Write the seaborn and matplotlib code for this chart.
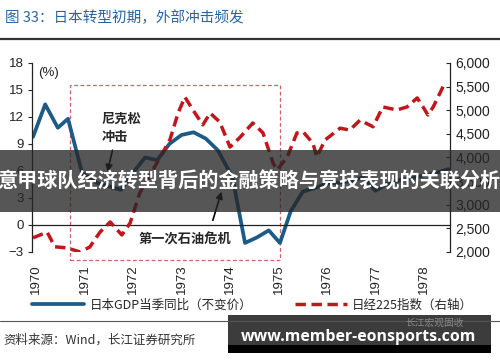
import matplotlib
matplotlib.use("Agg")
import matplotlib.pyplot as plt
import seaborn as sns
from matplotlib.patches import Rectangle
from matplotlib.lines import Line2D
from matplotlib.ticker import FuncFormatter

sns.set_style("white")
plt.rcParams['font.family'] = ['Liberation Sans', 'Noto Sans CJK SC', 'DejaVu Sans']
CJK = ['Noto Sans CJK SC', 'DejaVu Sans']

# 日本GDP当季同比 (季度, %)
gdp_t = [1969.94, 1970.19, 1970.45, 1970.66, 1970.95, 1971.25, 1971.50, 1971.75,
         1972.00, 1972.25, 1972.50, 1972.75, 1973.00, 1973.25, 1973.50, 1973.75,
         1974.05, 1974.31, 1974.55, 1974.80, 1975.03, 1975.25, 1975.50, 1975.75,
         1976.00, 1976.25, 1976.50, 1976.75, 1977.00, 1977.25, 1977.50, 1977.75,
         1978.00, 1978.25, 1978.50]
gdp_yoy = [9.8, 13.4, 10.8, 11.8, 5.8, 4.7, 4.3, 3.9,
           5.8, 7.5, 7.2, 9.0, 10.0, 10.3, 9.6, 8.3,
           5.3, -2.0, -1.4, -0.6, -2.0, 1.5, 3.7, 4.1,
           4.6, 4.7, 4.9, 5.3, 3.8, 4.6, 5.0, 5.2,
           5.5, 5.8, 6.2]

# 日经225指数 (右轴)
nk_t = [1969.94, 1970.23, 1970.39, 1970.64, 1970.91, 1971.11, 1971.32, 1971.53,
        1971.77, 1971.94, 1972.14, 1972.49, 1972.76, 1972.93, 1973.07, 1973.24,
        1973.44, 1973.59, 1973.79, 1974.00, 1974.21, 1974.47, 1974.68, 1974.89,
        1974.97, 1975.18, 1975.38, 1975.51, 1975.71, 1975.79, 1975.96, 1976.27,
        1976.47, 1976.68, 1976.95, 1977.15, 1977.44, 1977.65, 1977.86, 1977.98,
        1978.08, 1978.19, 1978.33, 1978.43]
nikkei = [2300, 2420, 2110, 2085, 2000, 2105, 2420, 2635,
          2360, 2610, 3250, 3880, 4370, 4940, 5280, 5000,
          4690, 4940, 4750, 4220, 4430, 4730, 4520, 3880,
          3735, 4010, 4520, 4540, 4300, 4010, 4370, 4620,
          4580, 4790, 4650, 5070, 5005, 5070, 5260, 5070,
          4900, 5070, 5365, 5580]

years = list(range(1970, 1979))
left_ticks = [-3, 0, 3, 6, 9, 12, 15, 18]
right_ticks = [2000, 2500, 3000, 3500, 4000, 4500, 5000, 5500, 6000]

blue = '#1d5b86'
red = '#c0161c'

fig = plt.figure(figsize=(5, 3.62), dpi=100)
ax = fig.add_axes([0.064, 0.304, 0.836, 0.522])
ax2 = ax.twinx()

sns.lineplot(x=gdp_t, y=gdp_yoy, ax=ax, color=blue, lw=2.7, solid_capstyle='round',
             solid_joinstyle='round')
sns.lineplot(x=nk_t, y=nikkei, ax=ax2, color=red, lw=2.5, linestyle=(0, (3, 1.6)),
             dash_joinstyle='round')

ax.set_xlim(1969.918, 1978.536)
ax.set_ylim(-3, 18)
ax2.set_ylim(2000, 6000)
ax.set_yticks(left_ticks)
ax2.set_yticks(right_ticks)
ax2.yaxis.set_major_formatter(FuncFormatter(lambda v, p: f'{int(v):,}'))

for a in (ax, ax2):
    a.spines['top'].set_visible(False)
    a.grid(False)
    a.set_xlabel('')
    a.set_ylabel('')
ax.spines['right'].set_visible(False)
ax2.spines['bottom'].set_visible(False)
ax2.spines['left'].set_visible(False)
ax.spines['bottom'].set_position(('data', 0))
for s in ('left', 'bottom'):
    ax.spines[s].set_color('#222222')
    ax.spines[s].set_linewidth(0.9)
ax2.spines['right'].set_color('#222222')
ax2.spines['right'].set_linewidth(0.9)

ax.set_xticks(years)
ax.tick_params(axis='x', labelbottom=False, length=3, direction='out', width=0.8)
ax.tick_params(axis='y', labelsize=9.5, length=3, direction='out', width=0.8, pad=3,
               labelcolor='#222222')
ax2.tick_params(axis='y', labelsize=10, length=3, direction='in', width=0.8, pad=4,
                labelcolor='#222222')
ax2.tick_params(axis='x', bottom=False, labelbottom=False)

sec = ax.secondary_xaxis(0)
sec.set_xticks(years)
sec.set_xticklabels([str(y) for y in years], rotation=90, fontsize=9.5, color='#222222')
sec.tick_params(length=0, pad=9)
sec.spines['bottom'].set_visible(False)

# 虚线框
ax.add_patch(Rectangle((1970.70, -3.9), 1975.03 - 1970.70, 15.56 + 3.9, fill=False,
                       edgecolor='#d0606a', lw=0.9, linestyle=(0, (3, 2)), clip_on=False))

ax.text(1970.04, 16.9, '(%)', fontsize=9.5, ha='left', va='center', color='#222222')

ax.annotate('尼克松\n冲击', xy=(1971.46, 5.78), xytext=(1971.36, 10.8),
            fontsize=9.5, fontweight='bold', family=CJK, ha='left', va='center',
            linespacing=1.4)
ax.annotate('', xy=(1971.46, 5.6), xytext=(1971.59, 8.6),
            arrowprops=dict(arrowstyle='-|>', color='black', lw=1.2, mutation_scale=10))
ax.text(1973.07, -1.67, '第一次石油危机', fontsize=9.5, fontweight='bold', family=CJK,
        ha='center', va='center')
ax.annotate('', xy=(1973.84, 4.0), xytext=(1973.63, 0.22),
            arrowprops=dict(arrowstyle='-|>', color='black', lw=1.2, mutation_scale=10))

# 图例
handles = [Line2D([], [], color=blue, lw=2.7),
           Line2D([], [], color=red, lw=2.5, linestyle=(0, (3, 1.6)))]
fig.legend(handles, ['日本GDP当季同比（不变价）', '日经225指数（右轴）'],
           loc='center', bbox_to_anchor=(0.505, 0.157), ncol=2, frameon=False,
           prop={'family': CJK, 'size': 9}, handlelength=4.2, handletextpad=0.4,
           columnspacing=3.4)

# 标题与来源
fig.text(0.01, 0.95, '图 33：日本转型初期，外部冲击频发', family=CJK, fontsize=10.5,
         color='#2a64a0', ha='left', va='center')
fig.add_artist(Line2D([0, 1], [0.893, 0.893], color='#333333', lw=1.6))
fig.add_artist(Line2D([0, 1], [0.113, 0.113], color='#555555', lw=0.8))
fig.text(0.006, 0.061, '资料来源：Wind，长江证券研究所', family=CJK, fontsize=9,
         color='#333333', ha='left', va='center')

# 横幅
fig.add_artist(Rectangle((0, 0.414), 1, 0.172, transform=fig.transFigure,
                         facecolor=(0.15, 0.15, 0.15), alpha=0.78, edgecolor='none'))
fig.text(0.497, 0.50, '意甲球队经济转型背后的金融策略与竞技表现的关联分析', family=CJK,
         fontsize=14.5, fontweight='bold', color='white', ha='center', va='center')

# 水印
fig.add_artist(Rectangle((0.456, 0.025), 0.526, 0.105, transform=fig.transFigure,
                         facecolor='#3c3c3c', edgecolor='none'))
fig.add_artist(Rectangle((0.456, 0.025), 0.526, 0.022, transform=fig.transFigure,
                         facecolor='#000000', edgecolor='none'))
fig.text(0.87, 0.108, '长江宏观固收', family=CJK, fontsize=7, color='#8a8a8a',
         ha='center', va='center')
fig.text(0.717, 0.069, 'www.member-eonsports.com', family=['Open Sans', 'DejaVu Sans'],
         fontsize=11.4, fontweight='bold', color='white', ha='center', va='center')

fig.savefig('out.png', dpi=100)
